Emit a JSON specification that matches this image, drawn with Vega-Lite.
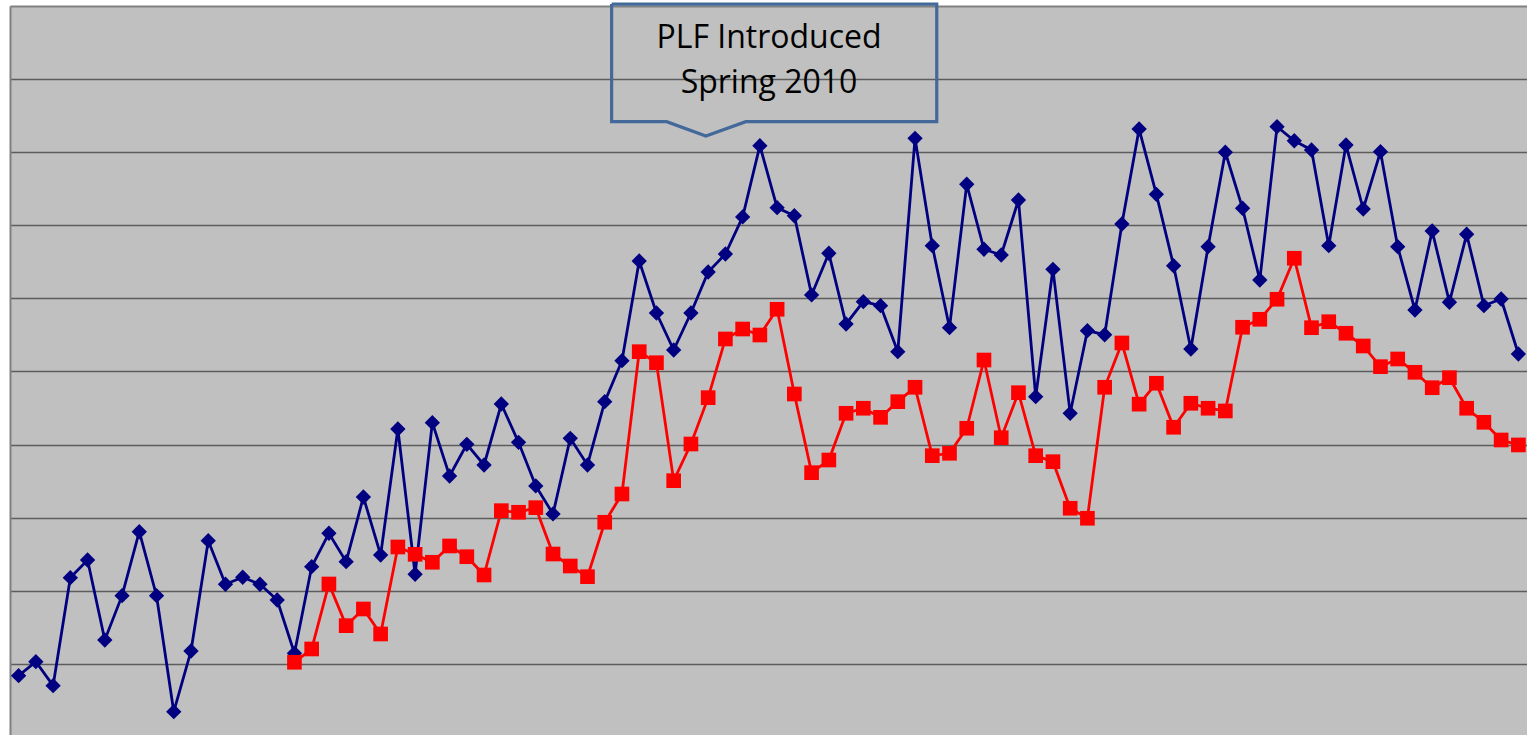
{
  "$schema": "https://vega.github.io/schema/vega-lite/v6.json",
  "usermeta": {"embedOptions": {"actions": false}},
  "width": 1517,
  "height": 729,
  "autosize": {"type": "none"},
  "padding": {"left": 10, "top": 6, "right": 0, "bottom": 0},
  "background": "#ffffff",
  "config": {
    "view": {"stroke": null, "fill": "#C0C0C0"}
  },
  "datasets": {
    "blue": [
      {"i":1,"v":8.39},{"i":2,"v":10.30},{"i":3,"v":7.02},{"i":4,"v":21.79},{"i":5,"v":24.21},
      {"i":6,"v":13.27},{"i":7,"v":19.33},{"i":8,"v":28.08},{"i":9,"v":19.33},{"i":10,"v":3.46},
      {"i":11,"v":11.76},{"i":12,"v":26.85},{"i":13,"v":20.89},{"i":14,"v":21.85},{"i":15,"v":20.89},
      {"i":16,"v":18.74},{"i":17,"v":11.45},{"i":18,"v":23.30},{"i":19,"v":27.87},{"i":20,"v":23.98},
      {"i":21,"v":32.83},{"i":22,"v":24.90},{"i":23,"v":42.13},{"i":24,"v":22.26},{"i":25,"v":43.00},
      {"i":26,"v":35.70},{"i":27,"v":40.04},{"i":28,"v":37.21},{"i":29,"v":45.55},{"i":30,"v":40.31},
      {"i":31,"v":34.34},{"i":32,"v":30.51},{"i":33,"v":40.86},{"i":34,"v":37.21},{"i":35,"v":45.87},
      {"i":36,"v":51.48},{"i":37,"v":65.12},{"i":38,"v":58.00},{"i":39,"v":52.94},{"i":40,"v":58.00},
      {"i":41,"v":63.61},{"i":42,"v":66.07},{"i":43,"v":71.14},{"i":44,"v":80.89},{"i":45,"v":72.41},
      {"i":46,"v":71.31},{"i":47,"v":60.47},{"i":48,"v":66.17},{"i":49,"v":56.50},{"i":50,"v":59.55},
      {"i":51,"v":59.00},{"i":52,"v":52.71},{"i":53,"v":81.90},{"i":54,"v":67.21},{"i":55,"v":55.99},
      {"i":56,"v":75.61},{"i":57,"v":66.72},{"i":58,"v":65.94},{"i":59,"v":73.46},{"i":60,"v":46.55},
      {"i":61,"v":63.98},{"i":62,"v":44.28},{"i":63,"v":55.58},{"i":64,"v":55.03},{"i":65,"v":70.18},
      {"i":66,"v":83.17},{"i":67,"v":74.24},{"i":68,"v":64.47},{"i":69,"v":53.08},{"i":70,"v":67.07},
      {"i":71,"v":79.99},{"i":72,"v":72.33},{"i":73,"v":62.52},{"i":74,"v":83.49},{"i":75,"v":81.57},
      {"i":76,"v":80.30},{"i":77,"v":67.21},{"i":78,"v":80.98},{"i":79,"v":72.23},{"i":80,"v":80.07},
      {"i":81,"v":67.07},{"i":82,"v":58.41},{"i":83,"v":69.22},{"i":84,"v":59.47},{"i":85,"v":68.77},
      {"i":86,"v":59.00},{"i":87,"v":59.92},{"i":88,"v":52.39}
    ],
    "red": [
      {"i":17,"v":10.22},{"i":18,"v":12.04},{"i":19,"v":20.93},{"i":20,"v":15.23},
      {"i":21,"v":17.51},{"i":22,"v":14.09},{"i":23,"v":25.99},{"i":24,"v":24.99},{"i":25,"v":23.90},
      {"i":26,"v":26.13},{"i":27,"v":24.66},{"i":28,"v":22.16},{"i":29,"v":30.96},{"i":30,"v":30.74},
      {"i":31,"v":31.37},{"i":32,"v":25.03},{"i":33,"v":23.39},{"i":34,"v":21.93},{"i":35,"v":29.37},
      {"i":36,"v":33.24},{"i":37,"v":52.71},{"i":38,"v":51.20},{"i":39,"v":35.06},{"i":40,"v":40.08},
      {"i":41,"v":46.42},{"i":42,"v":54.45},{"i":43,"v":55.81},{"i":44,"v":54.99},{"i":45,"v":58.51},
      {"i":46,"v":46.92},{"i":47,"v":36.16},{"i":48,"v":37.89},{"i":49,"v":44.28},{"i":50,"v":44.97},
      {"i":51,"v":43.73},{"i":52,"v":45.87},{"i":53,"v":47.84},{"i":54,"v":38.48},{"i":55,"v":38.81},
      {"i":56,"v":42.23},{"i":57,"v":51.57},{"i":58,"v":40.94},{"i":59,"v":47.10},{"i":60,"v":38.48},
      {"i":61,"v":37.66},{"i":62,"v":31.29},{"i":63,"v":29.92},{"i":64,"v":47.84},{"i":65,"v":53.90},
      {"i":66,"v":45.53},{"i":67,"v":48.39},{"i":68,"v":42.37},{"i":69,"v":45.65},{"i":70,"v":44.97},
      {"i":71,"v":44.60},{"i":72,"v":56.05},{"i":73,"v":57.14},{"i":74,"v":59.88},{"i":75,"v":65.49},
      {"i":76,"v":55.99},{"i":77,"v":56.81},{"i":78,"v":55.23},{"i":79,"v":53.49},{"i":80,"v":50.66},
      {"i":81,"v":51.71},{"i":82,"v":49.89},{"i":83,"v":47.78},{"i":84,"v":49.15},{"i":85,"v":44.97},
      {"i":86,"v":43.05},{"i":87,"v":40.63},{"i":88,"v":39.95}
    ],
    "callout": [
      {"k":1,"i":35.40,"v":100.27},
      {"k":2,"i":54.26,"v":100.27},
      {"k":3,"i":54.26,"v":84.17},
      {"k":4,"i":43.18,"v":84.17},
      {"k":5,"i":40.87,"v":82.22},
      {"k":6,"i":38.59,"v":84.17},
      {"k":7,"i":35.40,"v":84.17},
      {"k":8,"i":35.40,"v":100.27}
    ],
    "label": [
      {"i":44.53,"v":94.25,"t":"PLF Introduced"},
      {"i":44.53,"v":88.14,"t":"Spring 2010"}
    ]
  },
  "layer": [
    {
      "data": {"name": "blue"},
      "mark": {"type": "line", "color": "#000080", "strokeWidth": 2.8, "clip": false},
      "encoding": {
        "x": {"field": "i", "type": "quantitative",
              "scale": {"domain": [0.5, 88.5], "nice": false, "zero": false},
              "axis": {"orient": "top", "title": null, "labels": false, "ticks": false, "grid": false,
                       "domain": true, "domainColor": "#808080", "domainWidth": 2}},
        "y": {"field": "v", "type": "quantitative",
              "scale": {"domain": [0.27, 100], "nice": false, "zero": false},
              "axis": {"orient": "left", "title": null, "labels": false, "ticks": false,
                       "values": [10, 20, 30, 40, 50, 60, 70, 80, 90],
                       "grid": true, "gridColor": "#5c5c5c", "gridWidth": 1.3,
                       "domain": true, "domainColor": "#808080", "domainWidth": 2}}
      }
    },
    {
      "data": {"name": "blue"},
      "mark": {"type": "point", "shape": "diamond", "filled": true, "color": "#000080", "opacity": 1, "size": 235, "clip": false},
      "encoding": {
        "x": {"field": "i", "type": "quantitative"},
        "y": {"field": "v", "type": "quantitative"}
      }
    },
    {
      "data": {"name": "red"},
      "mark": {"type": "line", "color": "#FF0000", "strokeWidth": 2.8, "clip": false},
      "encoding": {
        "x": {"field": "i", "type": "quantitative"},
        "y": {"field": "v", "type": "quantitative"}
      }
    },
    {
      "data": {"name": "red"},
      "mark": {"type": "point", "shape": "square", "filled": true, "color": "#FF0000", "opacity": 1, "size": 215, "clip": false},
      "encoding": {
        "x": {"field": "i", "type": "quantitative"},
        "y": {"field": "v", "type": "quantitative"}
      }
    },
    {
      "data": {"name": "callout"},
      "mark": {"type": "line", "color": "#43699A", "strokeWidth": 3.2, "strokeJoin": "miter", "clip": false},
      "encoding": {
        "x": {"field": "i", "type": "quantitative"},
        "y": {"field": "v", "type": "quantitative"},
        "order": {"field": "k", "type": "quantitative"}
      }
    },
    {
      "data": {"name": "label"},
      "mark": {"type": "text", "font": "Open Sans", "fontSize": 32, "color": "#000000", "align": "center", "baseline": "alphabetic", "clip": false},
      "encoding": {
        "x": {"field": "i", "type": "quantitative"},
        "y": {"field": "v", "type": "quantitative"},
        "text": {"field": "t", "type": "nominal"}
      }
    }
  ]
}
